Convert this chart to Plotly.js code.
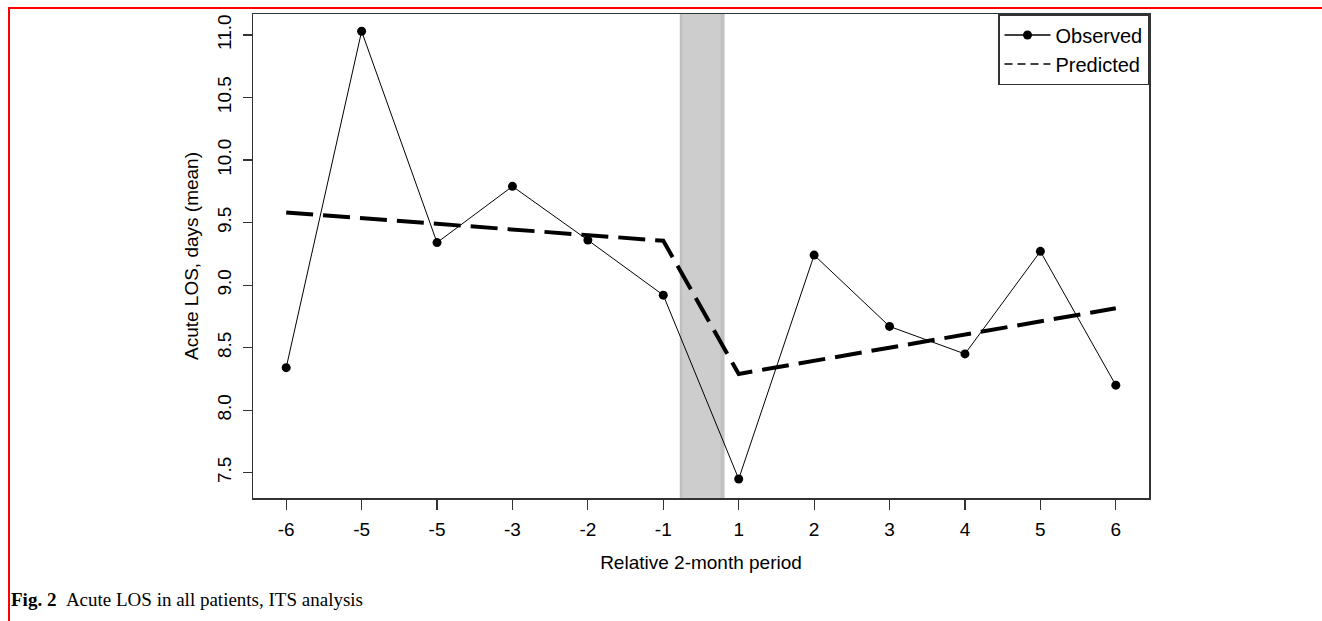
<!DOCTYPE html>
<html>
<head>
<meta charset="utf-8">
<script src="https://cdn.plot.ly/plotly-3.0.1.min.js"></script>
<style>
  html, body { margin: 0; padding: 0; background: #ffffff; }
  #chart { width: 1322px; height: 621px; position: relative; }
  #frame { position: absolute; left: 8px; top: 7px; width: 1330px; height: 640px;
           border-top: 2px solid #ff0000; border-left: 2px solid #ff0000; pointer-events: none; z-index: 10; }
</style>
</head>
<body>
<div id="chart"></div>
<div id="frame"></div>
<script>
// ---- data ----
var periods = [1, 2, 3, 4, 5, 6, 7, 8, 9, 10, 11, 12];
var periodLabels = ['-6', '-5', '-5', '-3', '-2', '-1', '1', '2', '3', '4', '5', '6'];
var observed = [8.34, 11.03, 9.34, 9.79, 9.36, 8.92, 7.45, 9.24, 8.67, 8.45, 9.27, 8.20];
var predicted = [9.58, 9.535, 9.49, 9.445, 9.40, 9.355, 8.29, 8.395, 8.50, 8.605, 8.71, 8.815];
var yTicks = [7.5, 8.0, 8.5, 9.0, 9.5, 10.0, 10.5, 11.0];
var yTickLabels = ['7.5', '8.0', '8.5', '9.0', '9.5', '10.0', '10.5', '11.0'];
var interventionBand = [6.22, 6.81];

var sans = 'Liberation Sans, Arial, Helvetica, sans-serif';
var serif = 'Liberation Serif, Times New Roman, serif';

var traces = [
  {
    x: periods, y: predicted, type: 'scatter', mode: 'lines', name: 'Predicted',
    showlegend: false, hoverinfo: 'skip',
    line: { color: '#000000', width: 4, dash: '27px,10px' }
  },
  {
    x: periods, y: observed, type: 'scatter', mode: 'lines+markers', name: 'Observed',
    showlegend: false,
    line: { color: '#000000', width: 1 },
    marker: { color: '#000000', size: 9, symbol: 'circle' }
  },
  // legend entries
  {
    x: [null], y: [null], type: 'scatter', mode: 'lines+markers', name: 'Observed',
    line: { color: '#000000', width: 1.5 }, marker: { color: '#000000', size: 9 }
  },
  {
    x: [null], y: [null], type: 'scatter', mode: 'lines', name: 'Predicted',
    line: { color: '#000000', width: 1.6, dash: '8px,5px' }
  }
];

var layout = {
  width: 1322, height: 621,
  margin: { l: 253, r: 173, t: 14, b: 123, pad: 0 },
  paper_bgcolor: '#ffffff', plot_bgcolor: '#ffffff',
  font: { family: sans, size: 19, color: '#000000' },
  showlegend: true,
  legend: {
    x: 1, y: 1, xanchor: 'right', yanchor: 'top',
    bgcolor: '#ffffff', bordercolor: '#333333', borderwidth: 1.5,
    font: { family: sans, size: 20, color: '#000000' },
    itemwidth: 46, tracegroupgap: 0
  },
  xaxis: {
    range: [0.56, 12.44], tickmode: 'array', tickvals: periods, ticktext: periodLabels,
    showgrid: false, zeroline: false,
    showline: true, mirror: true, linecolor: '#333333', linewidth: 1.5,
    ticks: 'outside', ticklen: 10, tickwidth: 1.2, tickcolor: '#333333',
    ticklabelstandoff: 4,
    tickfont: { family: sans, size: 19 },
    title: { text: 'Relative 2-month period', font: { family: sans, size: 19 }, standoff: 16 }
  },
  yaxis: {
    range: [7.298, 11.168], tickmode: 'array', tickvals: yTicks, ticktext: yTickLabels,
    tickangle: -90,
    showgrid: false, zeroline: false,
    showline: true, mirror: true, linecolor: '#333333', linewidth: 1.5,
    ticks: 'outside', ticklen: 9, tickwidth: 1.2, tickcolor: '#333333',
    ticklabelstandoff: 4,
    tickfont: { family: sans, size: 19 },
    title: { text: 'Acute LOS, days (mean)', font: { family: sans, size: 19 }, standoff: 10 }
  },
  shapes: [
    { type: 'rect', layer: 'below', xref: 'x', yref: 'paper',
      x0: interventionBand[0], x1: interventionBand[1], y0: 0, y1: 1,
      fillcolor: '#cdcdcd', line: { width: 0 } },
    { type: 'rect', layer: 'below', xref: 'x', yref: 'paper',
      x0: interventionBand[0], x1: interventionBand[0] + 0.03, y0: 0, y1: 1,
      fillcolor: '#bfbfbf', line: { width: 0 } },
    { type: 'rect', layer: 'below', xref: 'x', yref: 'paper',
      x0: interventionBand[1] - 0.05, x1: interventionBand[1], y0: 0, y1: 1,
      fillcolor: '#c2c2c2', line: { width: 0 } }
  ],
  annotations: [
    { xref: 'paper', yref: 'paper', x: -0.2723, y: -0.2107, xanchor: 'left', yanchor: 'middle',
      showarrow: false, align: 'left',
      text: '<b>Fig. 2</b>\u00a0\u00a0Acute LOS in all patients, ITS analysis',
      font: { family: serif, size: 19, color: '#000000' } }
  ]
};

Plotly.newPlot('chart', traces, layout, { displayModeBar: false, staticPlot: true });
</script>
</body>
</html>
